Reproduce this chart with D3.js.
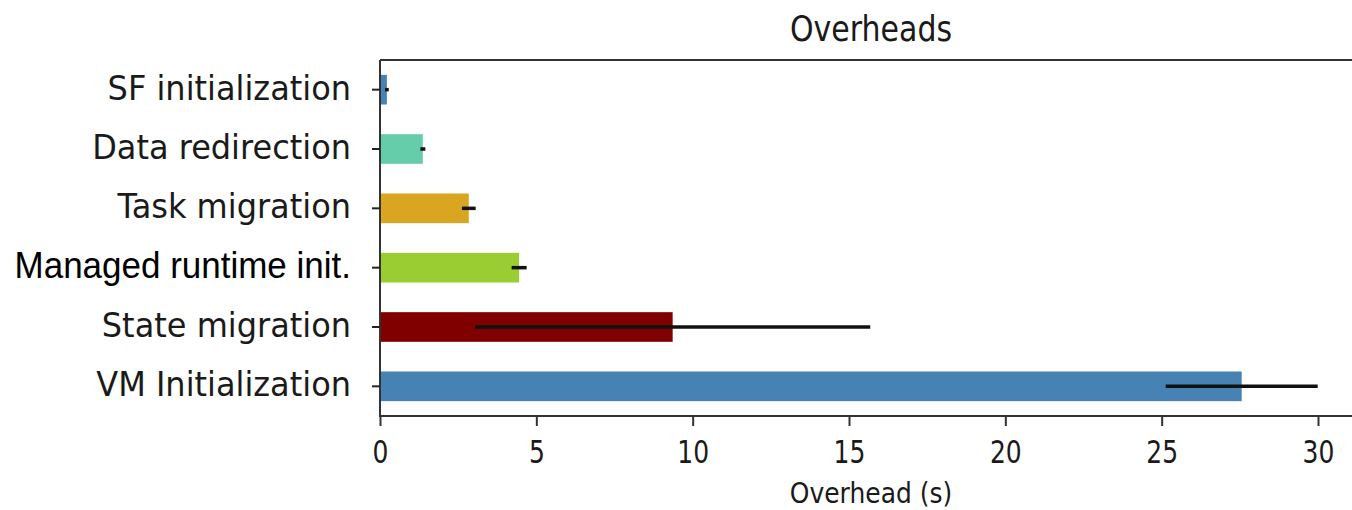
<!DOCTYPE html>
<html>
<head>
<meta charset="utf-8">
<script src="https://cdn.jsdelivr.net/npm/d3@7"></script>
<style>
  html, body { margin: 0; padding: 0; background: #fff; }
  svg { display: block; }
  .dv { font-family: "DejaVu Sans", sans-serif; fill: #1a1a1a; }
  .lib { font-family: "Liberation Sans", Arial, sans-serif; fill: #000; }
</style>
</head>
<body>
<svg id="chart" width="1352" height="510"></svg>
<script>
// Overhead components, top to bottom
const categories = ["SF initialization", "Data redirection", "Task migration",
                    "Managed runtime init.", "State migration", "VM Initialization"];
const means  = [0.22, 1.37, 2.84, 4.45, 9.36, 27.56];
const errors = [0.06, 0.08, 0.22, 0.24, 6.32, 2.43];
const colors = ["#4682b4", "#66cdaa", "#daa520", "#9acd32", "#800000", "#4682b4"];
const xTicks = [0, 5, 10, 15, 20, 25, 30];

const svg = d3.select("#chart");
const plotLeft = 380, plotTop = 60, plotBottom = 416, plotRight = 1360;

const x = d3.scaleLinear().domain([0, 30]).range([plotLeft, 1318]);
const y = d3.scaleBand().domain(categories).range([plotTop, plotBottom])
  .paddingInner(0.5).paddingOuter(0.25);

// bars
svg.selectAll("rect.bar").data(categories).enter().append("rect")
  .attr("class", "bar")
  .attr("x", x(0))
  .attr("y", d => y(d))
  .attr("width", (d, i) => x(means[i]) - x(0))
  .attr("height", y.bandwidth())
  .attr("fill", (d, i) => colors[i]);

// error bars (no caps)
svg.selectAll("line.err").data(categories).enter().append("line")
  .attr("class", "err")
  .attr("x1", (d, i) => x(means[i] - errors[i]))
  .attr("x2", (d, i) => x(means[i] + errors[i]))
  .attr("y1", d => y(d) + y.bandwidth() / 2)
  .attr("y2", d => y(d) + y.bandwidth() / 2)
  .attr("stroke", "#111")
  .attr("stroke-width", 3.5);

// frame
const frame = svg.append("g").attr("stroke", "#333").attr("stroke-width", 2).attr("fill", "none");
frame.append("line").attr("x1", plotLeft).attr("x2", plotRight).attr("y1", plotTop).attr("y2", plotTop);
frame.append("line").attr("x1", plotLeft).attr("x2", plotLeft).attr("y1", plotTop).attr("y2", plotBottom);
frame.append("line").attr("x1", plotLeft - 1).attr("x2", plotRight).attr("y1", plotBottom).attr("y2", plotBottom);

// x axis ticks and labels
const xAxis = d3.axisBottom(x).tickValues(xTicks).tickSize(10).tickFormat(d3.format("d"));
const gx = svg.append("g").attr("transform", `translate(0,${plotBottom})`).call(xAxis)
  .attr("font-family", null).attr("font-size", null);
gx.select(".domain").remove();
gx.selectAll(".tick line").attr("stroke", "#333").attr("stroke-width", 2);
gx.selectAll(".tick text")
  .attr("class", "dv")
  .attr("y", 0).attr("dy", null)
  .attr("transform", "translate(0,47) scale(1,1.3)")
  .attr("font-size", 25)
  .attr("fill", null);

// y axis ticks and labels
const yAxis = d3.axisLeft(y).tickSize(8).tickPadding(0);
const gy = svg.append("g").attr("transform", `translate(${plotLeft},0)`).call(yAxis)
  .attr("font-family", null).attr("font-size", null);
gy.select(".domain").remove();
gy.selectAll(".tick line").attr("stroke", "#222").attr("stroke-width", 2);
gy.selectAll(".tick text")
  .attr("class", d => d === "Managed runtime init." ? "lib" : "dv")
  .attr("x", 0).attr("dy", null)
  .attr("transform", "translate(-29,10) scale(1,1.07)")
  .attr("text-anchor", "end")
  .attr("font-size", d => d === "Managed runtime init." ? 35 : 32)
  .attr("fill", null);

// title
svg.append("text")
  .attr("class", "dv")
  .attr("transform", `translate(${(plotLeft + 1362) / 2},41) scale(1,1.16)`)
  .attr("text-anchor", "middle")
  .attr("font-size", 30)
  .text("Overheads");

// x axis title
svg.append("text")
  .attr("class", "dv")
  .attr("transform", `translate(${(plotLeft + 1362) / 2},503) scale(1,1.12)`)
  .attr("text-anchor", "middle")
  .attr("font-size", 25)
  .text("Overhead (s)");
</script>
</body>
</html>
